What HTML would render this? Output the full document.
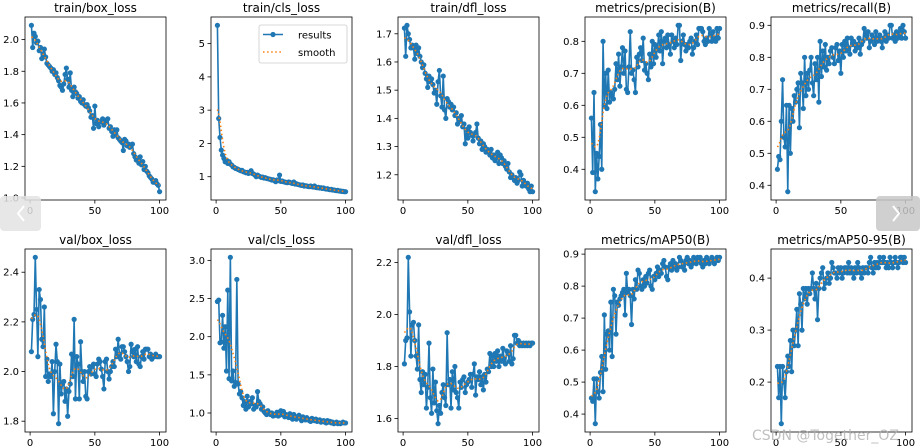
<!DOCTYPE html>
<html><head><meta charset="utf-8"><style>
body{margin:0;background:#fff;}
svg{display:block;font-family:"DejaVu Sans","Liberation Sans",sans-serif;}
</style></head><body>
<svg id="fig" width="920" height="448" viewBox="0 0 920 448"></svg>
<script>
const titles=["train/box_loss","train/cls_loss","train/dfl_loss","metrics/precision(B)","metrics/recall(B)","val/box_loss","val/cls_loss","val/dfl_loss","metrics/mAP50(B)","metrics/mAP50-95(B)"];
const xTicks=[0,50,100];
const yTicks0=[1.0,1.2,1.4,1.6,1.8,2.0];
const yTicks1=[1,2,3,4,5];
const yTicks2=[1.2,1.3,1.4,1.5,1.6,1.7];
const yTicks3=[0.4,0.5,0.6,0.7,0.8];
const yTicks4=[0.4,0.5,0.6,0.7,0.8,0.9];
const yTicks5=[1.8,2.0,2.2,2.4];
const yTicks6=[1.0,1.5,2.0,2.5,3.0];
const yTicks7=[1.6,1.8,2.0,2.2];
const yTicks8=[0.4,0.5,0.6,0.7,0.8,0.9];
const yTicks9=[0.2,0.3,0.4];
const trainBox=[2.09,1.95,2.04,2.02,1.98,1.99,1.93,1.95,1.88,1.91,1.94,1.89,1.85,1.84,1.83,1.82,1.80,1.81,1.78,1.79,1.76,1.74,1.71,1.70,1.68,1.72,1.78,1.82,1.75,1.70,1.79,1.68,1.64,1.70,1.67,1.66,1.63,1.64,1.61,1.60,1.62,1.59,1.58,1.59,1.57,1.55,1.51,1.52,1.44,1.58,1.47,1.49,1.45,1.48,1.48,1.50,1.46,1.49,1.48,1.50,1.44,1.45,1.42,1.39,1.43,1.40,1.43,1.38,1.37,1.36,1.35,1.30,1.37,1.36,1.33,1.34,1.32,1.33,1.34,1.28,1.26,1.24,1.25,1.22,1.26,1.21,1.23,1.18,1.20,1.17,1.16,1.14,1.13,1.12,1.10,1.10,1.11,1.09,1.08,1.04];
const trainCls=[5.55,2.75,2.18,1.80,1.65,1.55,1.45,1.50,1.40,1.45,1.38,1.35,1.30,1.28,1.25,1.24,1.22,1.20,1.18,1.19,1.15,1.14,1.12,1.13,1.10,1.12,1.18,1.10,1.08,1.05,1.00,1.05,1.02,1.00,0.98,0.99,0.96,0.97,0.95,0.94,0.93,0.92,0.90,0.91,0.88,0.85,0.90,0.88,1.05,0.86,0.87,0.85,0.84,0.83,0.82,0.84,0.83,0.81,0.80,0.84,0.78,0.79,0.77,0.76,0.75,0.74,0.75,0.72,0.73,0.72,0.71,0.70,0.72,0.70,0.69,0.72,0.68,0.67,0.68,0.66,0.67,0.65,0.66,0.64,0.63,0.64,0.62,0.61,0.62,0.60,0.60,0.59,0.58,0.59,0.57,0.57,0.56,0.56,0.55,0.55];
const trainDfl=[1.72,1.62,1.73,1.70,1.68,1.65,1.66,1.65,1.61,1.66,1.63,1.65,1.62,1.60,1.58,1.59,1.56,1.54,1.51,1.55,1.53,1.54,1.52,1.49,1.50,1.45,1.53,1.57,1.48,1.44,1.55,1.43,1.40,1.47,1.46,1.44,1.45,1.43,1.44,1.41,1.42,1.38,1.40,1.39,1.41,1.37,1.38,1.31,1.36,1.33,1.37,1.35,1.34,1.32,1.34,1.35,1.38,1.33,1.31,1.32,1.29,1.31,1.30,1.28,1.29,1.28,1.27,1.29,1.26,1.27,1.25,1.26,1.28,1.24,1.27,1.26,1.24,1.25,1.23,1.22,1.24,1.21,1.19,1.20,1.19,1.18,1.19,1.17,1.18,1.21,1.20,1.16,1.18,1.17,1.16,1.17,1.15,1.14,1.16,1.14];
const precision=[0.56,0.39,0.64,0.33,0.45,0.37,0.44,0.54,0.40,0.80,0.60,0.70,0.59,0.71,0.61,0.64,0.63,0.62,0.65,0.73,0.68,0.76,0.66,0.72,0.78,0.70,0.77,0.65,0.64,0.72,0.83,0.70,0.71,0.68,0.64,0.75,0.72,0.76,0.78,0.74,0.81,0.71,0.73,0.70,0.68,0.76,0.72,0.80,0.73,0.79,0.75,0.78,0.82,0.77,0.83,0.73,0.80,0.81,0.78,0.82,0.79,0.76,0.82,0.80,0.78,0.81,0.79,0.85,0.85,0.74,0.80,0.82,0.79,0.77,0.79,0.78,0.80,0.81,0.76,0.78,0.80,0.82,0.79,0.84,0.84,0.84,0.83,0.80,0.79,0.81,0.80,0.84,0.82,0.80,0.83,0.81,0.80,0.84,0.81,0.84];
const recall=[0.45,0.49,0.48,0.60,0.73,0.55,0.52,0.65,0.38,0.65,0.50,0.64,0.60,0.68,0.66,0.70,0.72,0.58,0.75,0.72,0.64,0.80,0.68,0.75,0.70,0.76,0.80,0.72,0.68,0.78,0.73,0.80,0.66,0.85,0.74,0.82,0.77,0.84,0.76,0.80,0.78,0.82,0.83,0.80,0.78,0.83,0.84,0.79,0.82,0.75,0.84,0.80,0.85,0.82,0.86,0.83,0.81,0.86,0.84,0.85,0.82,0.84,0.83,0.86,0.81,0.84,0.85,0.89,0.87,0.86,0.88,0.83,0.85,0.87,0.86,0.84,0.88,0.85,0.86,0.87,0.85,0.83,0.86,0.88,0.85,0.87,0.86,0.90,0.90,0.86,0.87,0.85,0.88,0.86,0.87,0.89,0.86,0.90,0.88,0.86];
const valBox=[2.08,2.21,2.23,2.46,2.25,2.06,2.33,2.29,2.13,2.10,2.26,1.98,2.05,1.96,1.99,1.98,2.04,1.83,2.00,2.11,2.04,1.79,2.03,1.91,1.95,1.96,1.88,1.93,1.82,1.92,1.95,2.07,1.98,2.21,1.89,2.06,2.03,1.89,2.12,2.00,1.96,2.00,1.90,1.89,2.00,2.02,1.99,2.02,2.03,1.99,1.98,2.03,2.05,2.04,2.01,1.98,1.93,2.04,2.05,2.00,1.97,2.00,2.02,2.04,2.02,2.09,2.06,2.13,2.07,2.05,2.10,2.10,2.08,2.06,2.04,2.00,2.02,2.11,2.08,2.06,2.09,2.04,2.10,2.03,2.02,2.06,2.08,2.05,2.09,2.09,2.09,2.06,2.07,2.05,2.06,2.06,2.07,2.06,2.06,2.06];
const valCls=[2.46,2.48,1.92,1.93,2.28,1.85,2.13,1.55,2.61,1.45,3.04,1.42,1.55,1.35,1.40,2.75,1.38,1.25,1.28,1.20,1.10,1.15,1.05,1.22,1.08,1.15,1.12,1.20,1.05,1.10,1.08,1.28,1.15,1.12,1.05,1.08,1.02,1.00,0.98,1.03,1.00,0.98,1.00,0.96,0.98,0.97,1.01,0.96,0.97,1.03,0.98,1.02,0.95,0.98,0.96,0.94,0.99,0.96,0.92,0.98,0.95,0.92,0.95,0.97,0.93,0.90,0.95,0.93,0.91,0.94,0.92,0.90,0.89,0.93,0.91,0.90,0.92,0.89,0.90,0.91,0.88,0.89,0.90,0.88,0.87,0.90,0.88,0.89,0.87,0.88,0.86,0.87,0.88,0.86,0.87,0.86,0.87,0.88,0.87,0.87];
const valDfl=[1.81,1.90,1.91,2.22,2.01,1.84,1.96,1.97,1.90,1.84,1.79,1.96,1.75,1.70,1.78,1.73,1.77,1.64,1.72,1.89,1.68,1.62,1.79,1.66,1.74,1.63,1.58,1.65,1.62,1.70,1.73,1.68,1.65,1.93,1.73,1.75,1.64,1.78,1.71,1.80,1.70,1.68,1.64,1.74,1.72,1.75,1.76,1.70,1.73,1.74,1.75,1.77,1.72,1.77,1.81,1.69,1.76,1.75,1.78,1.73,1.76,1.71,1.77,1.74,1.79,1.78,1.85,1.80,1.84,1.80,1.85,1.82,1.86,1.80,1.84,1.82,1.87,1.83,1.81,1.86,1.85,1.82,1.88,1.81,1.83,1.92,1.92,1.89,1.90,1.88,1.89,1.88,1.89,1.88,1.89,1.88,1.89,1.88,1.89,1.89];
const map50=[0.45,0.44,0.51,0.37,0.51,0.47,0.45,0.53,0.58,0.47,0.71,0.54,0.65,0.66,0.60,0.75,0.58,0.79,0.77,0.65,0.75,0.74,0.76,0.77,0.78,0.79,0.71,0.84,0.78,0.79,0.77,0.68,0.79,0.76,0.82,0.79,0.85,0.84,0.80,0.79,0.82,0.80,0.83,0.81,0.84,0.85,0.80,0.79,0.83,0.82,0.84,0.86,0.83,0.85,0.84,0.87,0.88,0.86,0.83,0.82,0.86,0.87,0.85,0.88,0.86,0.87,0.85,0.86,0.89,0.88,0.86,0.87,0.85,0.88,0.89,0.87,0.88,0.86,0.87,0.89,0.88,0.87,0.89,0.88,0.89,0.87,0.86,0.88,0.87,0.89,0.88,0.87,0.88,0.89,0.88,0.87,0.88,0.89,0.88,0.89];
const map5095=[0.23,0.17,0.23,0.12,0.23,0.20,0.17,0.22,0.25,0.23,0.28,0.22,0.30,0.27,0.30,0.34,0.27,0.37,0.35,0.30,0.38,0.36,0.38,0.35,0.38,0.37,0.38,0.41,0.38,0.36,0.39,0.32,0.38,0.40,0.41,0.42,0.38,0.39,0.40,0.41,0.39,0.40,0.43,0.42,0.41,0.41,0.40,0.42,0.41,0.42,0.40,0.41,0.42,0.42,0.41,0.43,0.41,0.42,0.41,0.40,0.42,0.41,0.43,0.42,0.41,0.40,0.42,0.41,0.42,0.42,0.41,0.43,0.44,0.42,0.41,0.43,0.42,0.43,0.42,0.44,0.43,0.43,0.44,0.43,0.42,0.43,0.42,0.44,0.43,0.42,0.43,0.44,0.43,0.42,0.43,0.44,0.44,0.43,0.44,0.43];
const series=[trainBox,trainCls,trainDfl,precision,recall,valBox,valCls,valDfl,map50,map5095];
const yTicks=[yTicks0,yTicks1,yTicks2,yTicks3,yTicks4,yTicks5,yTicks6,yTicks7,yTicks8,yTicks9];

const NS="http://www.w3.org/2000/svg";
const svg=document.getElementById('fig');
function mk(tag,attrs,parent){const e=document.createElementNS(NS,tag);for(const k in attrs)e.setAttribute(k,attrs[k]);(parent||svg).appendChild(e);return e;}
function smooth(y,sigma){const r=Math.ceil(4*sigma),n=y.length,w=[];let s=0;for(let k=-r;k<=r;k++){const v=Math.exp(-k*k/(2*sigma*sigma));w.push(v);s+=v;}
 return y.map((_,i)=>{let a=0;for(let k=-r;k<=r;k++){let j=i+k;while(j<0||j>=n){if(j<0)j=-j-1;if(j>=n)j=2*n-j-1;}a+=w[k+r]*y[j];}return a/s;});}
function fmt(t,ticks){const step=ticks.length>1?Math.abs(ticks[1]-ticks[0]):1;if(step>=1&&Number.isInteger(t))return String(t);const d=step<0.1-1e-9?2:1;return t.toFixed(d);}
const lefts=[25,211,398,585,771],W=141,tops=[17,249],H=183;
series.forEach((y,p)=>{
 const L=lefts[p%5],T=tops[Math.floor(p/5)];
 const g=mk('g',{});
 
 
 const n=y.length,x0=1,x1=n,xm=(x1-x0)*0.05;
 const xmin=x0-xm,xmax=x1+xm;
 const ymn=Math.min(...y),ymx=Math.max(...y),ym=(ymx-ymn)*0.05;
 const ymin=ymn-ym,ymax=ymx+ym;
 const sx=v=>L+(v-xmin)/(xmax-xmin)*W, sy=v=>T+H-(v-ymin)/(ymax-ymin)*H;
 const t=mk('text',{x:L+W/2,y:T-5,'text-anchor':'middle','font-size':12,fill:'#000'},g);t.textContent=titles[p];
 
 
 xTicks.forEach(v=>{const X=sx(v);mk('line',{x1:X,x2:X,y1:T+H,y2:T+H+3.5,stroke:'#000','stroke-width':0.8},g);
  const tx=mk('text',{x:X,y:T+H+14,'text-anchor':'middle','font-size':10,fill:'#000'},g);tx.textContent=v;
  
  });
 yTicks[p].forEach(v=>{const Y=sy(v);if(Y<T-0.5||Y>T+H+0.5)return;mk('line',{x1:L-3.5,x2:L,y1:Y,y2:Y,stroke:'#000','stroke-width':0.8},g);
  const ty=mk('text',{x:L-6,y:Y+3.5,'text-anchor':'end','font-size':10,fill:'#000'},g);ty.textContent=fmt(v,yTicks[p]);
  
  });
 const pts=y.map((v,i)=>sx(i+1).toFixed(2)+','+sy(v).toFixed(2)).join(' ');
 const line=mk('polyline',{points:pts,fill:'none',stroke:'#1f77b4','stroke-width':1.6,'stroke-linejoin':'round'},g);
 
 
 y.forEach((v,i)=>{const c=mk('circle',{cx:sx(i+1),cy:sy(v),r:2.6,fill:'#1f77b4'},g);
  
  });
 const sm=smooth(y,3);
 const sl=mk('polyline',{points:sm.map((v,i)=>sx(i+1).toFixed(2)+','+sy(v).toFixed(2)).join(' '),fill:'none',stroke:'#ff7f0e','stroke-width':1.6,'stroke-dasharray':'1.5,2.6'},g);
 
 
 mk('rect',{x:L,y:T,width:W,height:H,fill:'none',stroke:'#000','stroke-width':0.8},g);
});
// legend
const lg=mk('g',{});


mk('rect',{x:259,y:25,width:88,height:38,rx:2,fill:'#fff',stroke:'#ccc','stroke-width':0.8},lg);
mk('line',{x1:263,x2:283,y1:34.5,y2:34.5,stroke:'#1f77b4','stroke-width':1.6},lg);
mk('circle',{cx:273,cy:34.5,r:2.6,fill:'#1f77b4'},lg);
mk('line',{x1:263,x2:283,y1:52,y2:52,stroke:'#ff7f0e','stroke-width':1.6,'stroke-dasharray':'1.5,2.6'},lg);
const l1=mk('text',{x:298,y:38.5,'font-size':10,fill:'#000'},lg);l1.textContent='results';


const l2=mk('text',{x:298,y:56,'font-size':10,fill:'#000'},lg);l2.textContent='smooth';


// nav buttons & watermark
const pb=mk('g',{});


mk('rect',{x:0,y:196,width:41,height:35,rx:4,fill:'#e3e3e3','fill-opacity':0.85},pb);
mk('polyline',{points:'24,206 18,213.5 24,221',fill:'none',stroke:'#fff','stroke-width':2},pb);
const nb=mk('g',{});


mk('rect',{x:876,y:196,width:44,height:35,rx:4,fill:'#c8c8c8','fill-opacity':0.85},nb);
mk('polyline',{points:'893,206 899,213.5 893,221',fill:'none',stroke:'#fff','stroke-width':2},nb);
const wm=mk('text',{x:752,y:440,'font-size':14,fill:'#b0b0b0','fill-opacity':0.8},svg);wm.textContent='CSDN @Together_OZ';


</script>
</body></html>
